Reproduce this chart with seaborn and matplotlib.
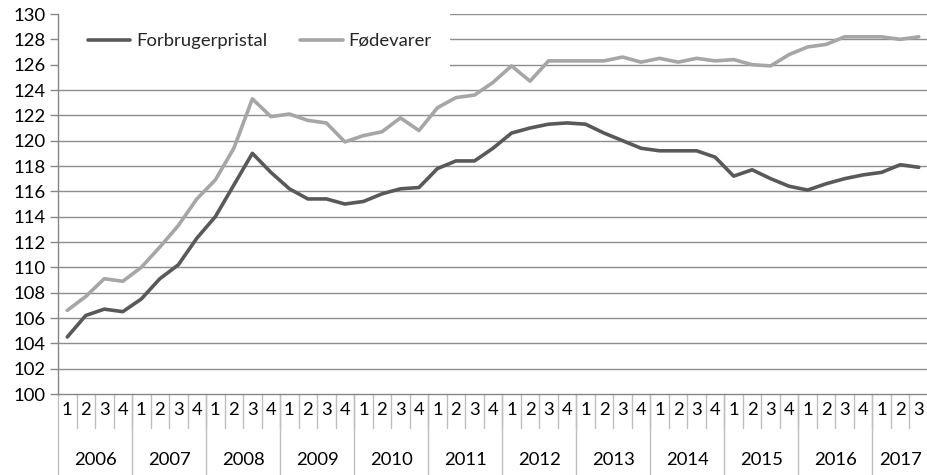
import matplotlib
matplotlib.use("Agg")
import matplotlib.pyplot as plt
import matplotlib.patches as mpatches
import matplotlib.transforms as mtransforms
from matplotlib.lines import Line2D
import seaborn as sns
import pandas as pd

years = ["2006", "2007", "2008", "2009", "2010", "2011", "2012",
         "2013", "2014", "2015", "2016", "2017"]
quarters_per_year = [4, 4, 4, 4, 4, 4, 4, 4, 4, 4, 4, 3]

forbrugerpristal = [
    104.5, 106.2, 106.7, 106.5,
    107.5, 109.1, 110.2, 112.3,
    114.0, 116.5, 119.0, 117.5,
    116.2, 115.4, 115.4, 115.0,
    115.2, 115.8, 116.2, 116.3,
    117.8, 118.4, 118.4, 119.4,
    120.6, 121.0, 121.3, 121.4,
    121.3, 120.6, 120.0, 119.4,
    119.2, 119.2, 119.2, 118.7,
    117.2, 117.7, 117.0, 116.4,
    116.1, 116.6, 117.0, 117.3,
    117.5, 118.1, 117.9,
]
foedevarer = [
    106.6, 107.7, 109.1, 108.9,
    110.0, 111.6, 113.3, 115.4,
    116.9, 119.4, 123.3, 121.9,
    122.1, 121.6, 121.4, 119.9,
    120.4, 120.7, 121.8, 120.8,
    122.6, 123.4, 123.6, 124.6,
    125.9, 124.7, 126.3, 126.3,
    126.3, 126.3, 126.6, 126.2,
    126.5, 126.2, 126.5, 126.3,
    126.4, 126.0, 125.9, 126.8,
    127.4, 127.6, 128.2, 128.2,
    128.2, 128.0, 128.2,
]
series_names = ["Forbrugerpristal", "Fødevarer"]
y_ticks = list(range(100, 131, 2))

quarter_labels = []
for y, cnt in zip(years, quarters_per_year):
    for q in range(1, cnt + 1):
        quarter_labels.append(str(q))
n = len(quarter_labels)
idx = list(range(n))

df = pd.DataFrame({
    "idx": idx * 2,
    "value": forbrugerpristal + foedevarer,
    "serie": [series_names[0]] * n + [series_names[1]] * n,
})

sns.set_theme(style="white")
plt.rcParams["font.family"] = ["Lato", "DejaVu Sans"]
FS = 13.3

fig = plt.figure(figsize=(9.28, 4.75), dpi=100)
W, H = 928, 475
ax = fig.add_axes([58 / W, 1 - 394 / H, 870 / W, 380 / H])

palette = {series_names[0]: "#595959", series_names[1]: "#a6a6a6"}
sns.lineplot(data=df, x="idx", y="value", hue="serie", palette=palette,
             linewidth=2.6, ax=ax, legend=False, zorder=3)

ax.set_xlim(-0.5, n - 0.5)
ax.set_ylim(100, 130)
ax.set_yticks(y_ticks)
ax.set_yticklabels([str(v) for v in y_ticks], fontsize=FS, color="#000000")
ax.tick_params(axis="y", length=6, width=1, color="#868686", pad=3, left=True)
ax.set_xticks([])
ax.set_xlabel("")
ax.set_ylabel("")

grid_c = "#8e8e8e"
for v in y_ticks[1:]:
    ax.axhline(v, color=grid_c, linewidth=1.0, zorder=0.5)

for s in ["top", "right"]:
    ax.spines[s].set_visible(False)
for s in ["left", "bottom"]:
    ax.spines[s].set_color("#868686")
    ax.spines[s].set_linewidth(1)

# white box behind legend covering gridlines
rect = mpatches.Rectangle((0, (394 - 72) / 380), (450 - 58) / 870, 1,
                          transform=ax.transAxes, facecolor="white",
                          edgecolor="none", zorder=1, clip_on=False)
ax.add_patch(rect)

handles = [Line2D([], [], color=palette[s], linewidth=2.6) for s in series_names]
leg = ax.legend(handles, series_names, loc="center left",
                bbox_to_anchor=((88 - 58) / 870, (394 - 41) / 380),
                ncol=2, frameon=False, fontsize=FS, handlelength=2.3,
                handletextpad=0.3, columnspacing=1.8, borderpad=0,
                borderaxespad=0)
leg.set_zorder(5)

# multi-level category axis
trans = mtransforms.blended_transform_factory(ax.transData, ax.transAxes)
sep_c = "#bfbfbf"
q_bottom = -34 / 380
y_bottom = -81 / 380
for i in range(1, n):
    ax.plot([i - 0.5, i - 0.5], [0, q_bottom], transform=trans, color=sep_c,
            linewidth=1, clip_on=False)
for i, lab in enumerate(quarter_labels):
    ax.text(i, -16 / 380, lab, transform=trans, ha="center", va="center",
            fontsize=FS, color="#000000")
start = 0
for y, cnt in zip(years, quarters_per_year):
    ax.plot([start - 0.5, start - 0.5], [0, y_bottom], transform=trans,
            color=sep_c, linewidth=1, clip_on=False)
    ax.text(start + (cnt - 1) / 2, -66 / 380, y, transform=trans, ha="center",
            va="center", fontsize=FS, color="#000000")
    start += cnt

fig.savefig("out.png", dpi=100, facecolor="white")
